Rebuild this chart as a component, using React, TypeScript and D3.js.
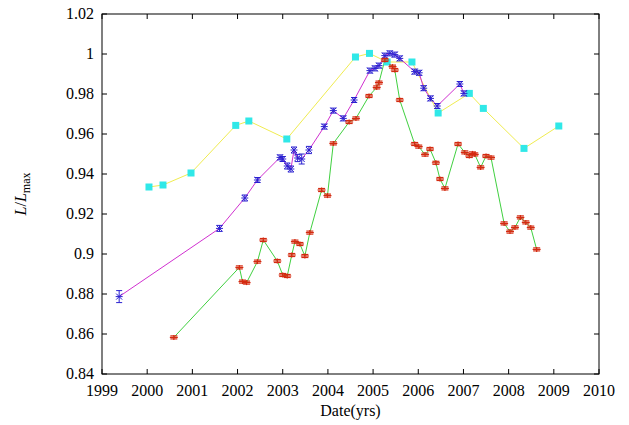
import React from 'react';
import * as d3 from 'd3';

// yellow line, cyan squares
const squareYears = [2000.04, 2000.35, 2000.97, 2001.96, 2002.25, 2003.09, 2004.61, 2004.92, 2005.31, 2005.86, 2006.44, 2007.13, 2007.44, 2008.34, 2009.11];
const squareValues = [0.9335, 0.9345, 0.9405, 0.9643, 0.9665, 0.9575, 0.9985, 1.0003, 0.996, 0.996, 0.9705, 0.9803, 0.9728, 0.9528, 0.964];

// magenta line, blue stars
const starYears = [1999.38, 2001.6, 2002.16, 2002.44, 2002.94, 2003.0, 2003.1, 2003.18, 2003.25, 2003.33, 2003.42, 2003.58, 2003.92, 2004.12, 2004.34, 2004.58, 2004.93, 2005.04, 2005.13, 2005.26, 2005.37, 2005.48, 2005.59, 2005.92, 2006.02, 2006.12, 2006.27, 2006.42, 2006.92, 2007.01];
const starValues = [0.8787, 0.9128, 0.928, 0.937, 0.9483, 0.9475, 0.944, 0.9425, 0.952, 0.948, 0.9475, 0.952, 0.9637, 0.9717, 0.9678, 0.977, 0.9917, 0.9928, 0.9942, 0.9992, 1.0003, 0.9997, 0.9978, 0.9912, 0.9906, 0.9829, 0.9778, 0.974, 0.985, 0.9803];
const starErrors = [0.003, 0.0015, 0.0015, 0.0012, 0.0012, 0.0012, 0.0015, 0.0015, 0.0015, 0.0018, 0.0025, 0.0018, 0.0012, 0.0012, 0.0012, 0.0012, 0.0012, 0.0012, 0.0012, 0.0012, 0.0012, 0.0012, 0.0012, 0.0012, 0.0012, 0.0012, 0.0012, 0.0012, 0.0012, 0.0012];

// green line, red crosses
const crossYears = [2000.59, 2002.04, 2002.11, 2002.2, 2002.44, 2002.57, 2002.88, 2003.0, 2003.1, 2003.2, 2003.27, 2003.38, 2003.49, 2003.6, 2003.86, 2003.99, 2004.12, 2004.47, 2004.62, 2004.91, 2005.08, 2005.13, 2005.26, 2005.43, 2005.48, 2005.59, 2005.92, 2006.01, 2006.15, 2006.26, 2006.39, 2006.48, 2006.59, 2006.88, 2007.03, 2007.13, 2007.2, 2007.25, 2007.38, 2007.5, 2007.61, 2007.9, 2008.03, 2008.14, 2008.26, 2008.38, 2008.49, 2008.62];
const crossValues = [0.8583, 0.8933, 0.8862, 0.8857, 0.8962, 0.907, 0.8965, 0.8895, 0.889, 0.8995, 0.9062, 0.905, 0.899, 0.9107, 0.932, 0.9292, 0.9553, 0.966, 0.9678, 0.979, 0.9833, 0.9857, 0.997, 0.9937, 0.992, 0.977, 0.955, 0.9537, 0.9497, 0.9525, 0.9456, 0.9375, 0.9328, 0.955, 0.9508, 0.949, 0.9503, 0.9498, 0.9433, 0.949, 0.9482, 0.9153, 0.9112, 0.9133, 0.9183, 0.9158, 0.9132, 0.9023];

const xTicks = d3.range(1999, 2011);
const yTicks = [0.84, 0.86, 0.88, 0.9, 0.92, 0.94, 0.96, 0.98, 1, 1.02];

const W = 629;
const H = 425;
const left = 102, right = 599, top = 14, bottom = 374;
const font = '"Liberation Serif", "DejaVu Serif", serif';

export default function App() {
  const x = d3.scaleLinear().domain([1999, 2010]).range([left, right]);
  const y = d3.scaleLinear().domain([0.84, 1.02]).range([bottom, top]);

  const line = (xs: number[], vs: number[]) =>
    d3.line<number>().x((_, i) => x(xs[i])).y((_, i) => y(vs[i]))(vs.map((_, i) => i)) || '';

  const yFmt = d3.format('~g');

  return (
    <svg width={W} height={H} style={{position: 'absolute', left: 0, top: 0, background: '#fff'}}>
      <rect x={0} y={0} width={W} height={H} fill="#fff" />

      {/* axes ticks */}
      {xTicks.map(t => (
        <g key={'x' + t}>
          <line x1={x(t)} x2={x(t)} y1={bottom} y2={bottom - 5} stroke="#000" />
          <line x1={x(t)} x2={x(t)} y1={top} y2={top + 5} stroke="#000" />
          <text x={x(t)} y={bottom + 22} textAnchor="middle" fontFamily={font} fontSize={16}>{t}</text>
        </g>
      ))}
      {yTicks.map(t => (
        <g key={'y' + t}>
          <line x1={left} x2={left + 5} y1={y(t)} y2={y(t)} stroke="#000" />
          <line x1={right} x2={right - 5} y1={y(t)} y2={y(t)} stroke="#000" />
          <text x={left - 8} y={y(t) + 5} textAnchor="end" fontFamily={font} fontSize={16}>{yFmt(t)}</text>
        </g>
      ))}

      {/* series lines */}
      <path d={line(squareYears, squareValues)} fill="none" stroke="#f0ec50" strokeWidth={1} />
      <path d={line(starYears, starValues)} fill="none" stroke="#d030d0" strokeWidth={1} />
      <path d={line(crossYears, crossValues)} fill="none" stroke="#40d040" strokeWidth={1} />

      {/* cyan squares */}
      {squareYears.map((t, i) => (
        <rect key={'s' + i} x={x(t) - 3.5} y={y(squareValues[i]) - 3.5} width={7} height={7} fill="#30e8e8" />
      ))}

      {/* blue stars with error bars */}
      {starYears.map((t, i) => {
        const cx = x(t), cy = y(starValues[i]);
        const e = Math.max(y(starValues[i] - starErrors[i]) - cy, 2.5);
        return (
          <g key={'b' + i} stroke="#2a20d0" strokeWidth={1}>
            <line x1={cx} x2={cx} y1={cy - e} y2={cy + e} />
            <line x1={cx - 3} x2={cx + 3} y1={cy - e} y2={cy - e} />
            <line x1={cx - 3} x2={cx + 3} y1={cy + e} y2={cy + e} />
            <line x1={cx - 3} x2={cx + 3} y1={cy - 3} y2={cy + 3} />
            <line x1={cx - 3} x2={cx + 3} y1={cy + 3} y2={cy - 3} />
            <line x1={cx - 3.5} x2={cx + 3.5} y1={cy} y2={cy} />
          </g>
        );
      })}

      {/* red crosses with error bars */}
      {crossYears.map((t, i) => {
        const cx = x(t), cy = y(crossValues[i]);
        return (
          <g key={'r' + i} stroke="#d42a10" strokeWidth={1.2}>
            <line x1={cx} x2={cx} y1={cy - 2.5} y2={cy + 2.5} />
            <line x1={cx - 3.5} x2={cx + 3.5} y1={cy - 1.5} y2={cy - 1.5} />
            <line x1={cx - 3.5} x2={cx + 3.5} y1={cy + 1.5} y2={cy + 1.5} />
            <line x1={cx - 4} x2={cx + 4} y1={cy} y2={cy} />
          </g>
        );
      })}

      {/* frame */}
      <rect x={left} y={top} width={right - left} height={bottom - top} fill="none" stroke="#000" strokeWidth={1} />

      {/* axis titles */}
      <text x={(left + right) / 2} y={416} textAnchor="middle" fontFamily={font} fontSize={16}>Date(yrs)</text>
      <text transform={`translate(26,${(top + bottom) / 2}) rotate(-90)`} textAnchor="middle" fontFamily={font} fontSize={16}>
        <tspan fontStyle="italic">L</tspan>
        <tspan>/</tspan>
        <tspan fontStyle="italic">L</tspan>
        <tspan fontSize={12} dy={4}>max</tspan>
      </text>
    </svg>
  );
}
